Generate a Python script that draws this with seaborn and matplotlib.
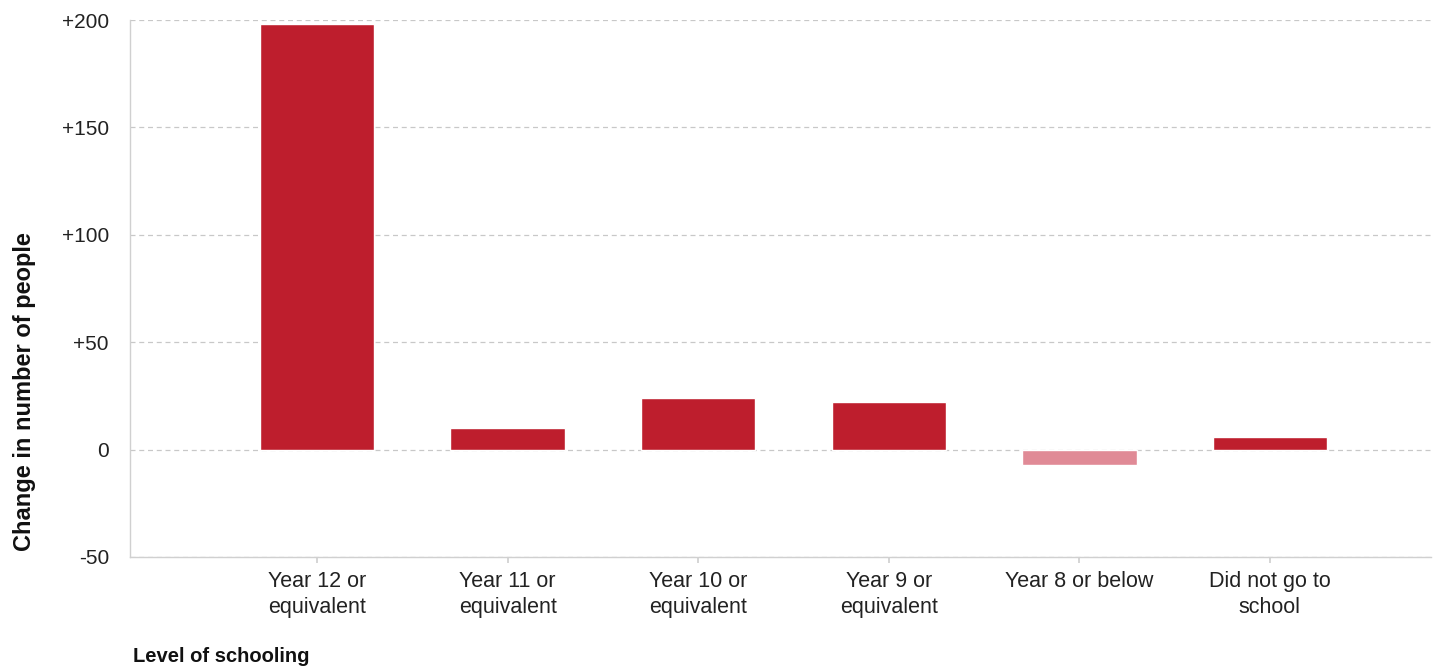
import matplotlib
matplotlib.use("Agg")
import matplotlib.pyplot as plt
import seaborn as sns
import pandas as pd
from matplotlib.ticker import FixedLocator

categories = ["Year 12 or\nequivalent", "Year 11 or\nequivalent", "Year 10 or\nequivalent",
              "Year 9 or\nequivalent", "Year 8 or below", "Did not go to\nschool"]
values = [198, 10, 24, 22, -7, 6]
signs = ["pos" if v >= 0 else "neg" for v in values]
yticks = [-50, 0, 50, 100, 150, 200]
ytick_labels = ["-50", "0", "+50", "+100", "+150", "+200"]

df = pd.DataFrame({"cat": categories, "val": values, "sign": signs})

sns.set_theme(style="white")
plt.rcParams["font.family"] = ["Liberation Sans", "DejaVu Sans"]

fig = plt.figure(figsize=(14.38, 6.69), dpi=100)
ax = fig.add_axes([130/1438, 112/669, 1301/1438, 537/669])

sns.barplot(data=df, x="cat", y="val", hue="sign", order=categories,
            palette={"pos": "#BE1E2D", "neg": "#E08A96"}, width=0.6,
            dodge=False, legend=False, ax=ax, zorder=3, saturation=1)

ax.set_ylim(-50, 200)
ax.set_xlim(-0.981, 5.845)
ax.yaxis.set_major_locator(FixedLocator(yticks))
ax.set_yticklabels(ytick_labels)
ax.grid(axis="y", color="#c8c8c8", linestyle=(0, (4, 3)), linewidth=0.9, zorder=0)
for s in ["top", "right"]:
    ax.spines[s].set_visible(False)
ax.spines["left"].set_color("#d0d0d0")
ax.spines["bottom"].set_color("#d0d0d0")
ax.spines["left"].set_linewidth(1)
ax.spines["bottom"].set_linewidth(1)
ax.tick_params(axis="y", length=12.2, color="#d0d0d0", labelsize=15, pad=3, labelcolor="#222222")
ax.tick_params(axis="x", length=4, color="#d0d0d0", labelsize=15.5, pad=6, labelcolor="#222222", bottom=True)
for lbl in ax.get_xticklabels():
    lbl.set_linespacing(1.3)

ax.set_xlabel("")
ax.set_ylabel("")
fig.text(25/1438, 1 - 392/669, "Change in number of people", fontsize=17, fontweight="bold",
         color="#111111", rotation=90, ha="center", va="center")
fig.text(133/1438, 1 - 657/669, "Level of schooling", fontsize=14.5, fontweight="bold",
         color="#111111", ha="left", va="center")

fig.savefig("out.png", dpi=100)
